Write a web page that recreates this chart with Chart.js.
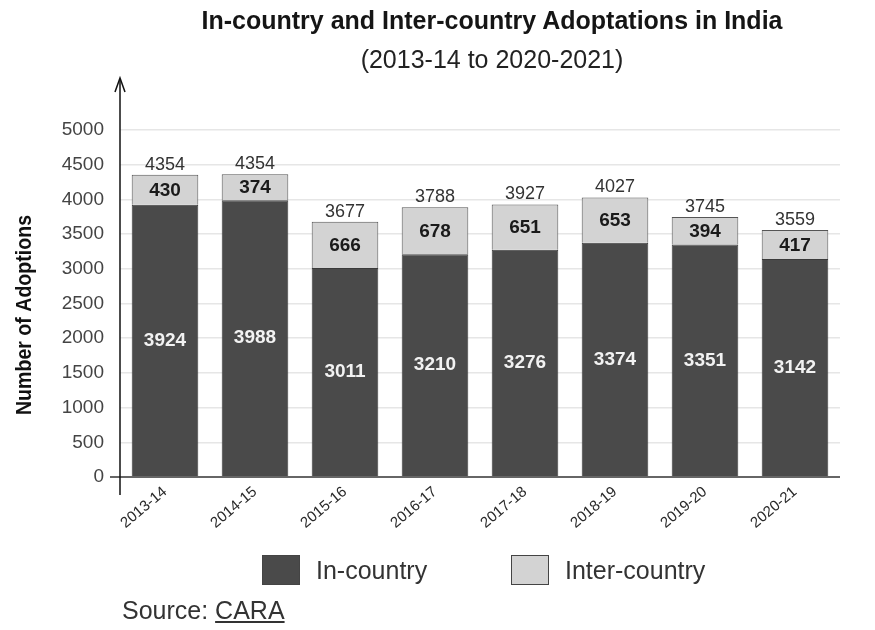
<!DOCTYPE html>
<html>
<head>
<meta charset="utf-8">
<script src="https://cdn.jsdelivr.net/npm/chart.js@4.4.1/dist/chart.umd.min.js"></script>
<style>
  html, body { margin:0; padding:0; background:#fff; }
  #wrap { position:relative; width:875px; height:630px; font-family:"Liberation Sans", Arial, sans-serif; }
  #title { position:absolute; top:6px; left:92px; width:800px; text-align:center; font-size:25px; font-weight:bold; color:#151515; }
  #subtitle { position:absolute; top:45px; left:92px; width:800px; text-align:center; font-size:25px; color:#222; }
  .lg { position:absolute; top:555px; display:flex; align-items:center; font-size:25px; color:#333; height:30px; }
  .sw { width:38px; height:30px; border:1px solid #444; margin-right:16px; box-sizing:border-box; }
  #source { position:absolute; left:122px; top:596px; font-size:25px; color:#333; }
  #source u { text-decoration:underline; }
</style>
</head>
<body>
<div id="wrap">
  <canvas id="chart" width="875" height="630"></canvas>
  <div id="title">In-country and Inter-country Adoptations in India</div>
  <div id="subtitle">(2013-14 to 2020-2021)</div>
  <div class="lg" style="left:262px"><div class="sw" style="background:#4a4a4a"></div>In-country</div>
  <div class="lg" style="left:511px"><div class="sw" style="background:#d3d3d3"></div>Inter-country</div>
  <div id="source">Source: <u>CARA</u></div>
</div>
<script>
// data
const years = ['2013-14','2014-15','2015-16','2016-17','2017-18','2018-19','2019-20','2020-21'];
const inCountry = [3924, 3988, 3011, 3210, 3276, 3374, 3351, 3142];
const interCountry = [430, 374, 666, 678, 651, 653, 394, 417];
// totals as printed above the bars
const totals = [4354, 4354, 3677, 3788, 3927, 4027, 3745, 3559];
const yTicks = [0, 500, 1000, 1500, 2000, 2500, 3000, 3500, 4000, 4500, 5000];

const FONT = '"Liberation Sans", Arial, sans-serif';

// value labels on the bars
const barLabels = {
  id: 'barLabels',
  afterDatasetsDraw(chart){
    const ctx = chart.ctx;
    const m0 = chart.getDatasetMeta(0), m1 = chart.getDatasetMeta(1);
    ctx.save();
    ctx.textAlign = 'center';
    ctx.textBaseline = 'middle';
    m0.data.forEach((bar, i)=>{
      ctx.font = 'bold 19px ' + FONT;
      ctx.fillStyle = '#f2f2f2';
      ctx.fillText(inCountry[i], bar.x, (bar.y + bar.base)/2);
      const top = m1.data[i];
      ctx.fillStyle = '#1a1a1a';
      ctx.fillText(interCountry[i], top.x, (top.y + top.base)/2 + 1);
      ctx.font = '18px ' + FONT;
      ctx.fillStyle = '#333';
      ctx.fillText(totals[i], top.x, top.y - 10);
    });
    ctx.restore();
  }
};

// arrow y axis, x axis line and the condensed y title
const axes = {
  id: 'axes',
  afterDraw(chart){
    const ctx = chart.ctx, a = chart.chartArea;
    const x = a.left;
    ctx.save();
    ctx.strokeStyle = '#666';
    ctx.lineWidth = 2;
    ctx.beginPath();
    ctx.moveTo(x - 10, a.bottom);
    ctx.lineTo(a.right, a.bottom);
    ctx.stroke();
    ctx.strokeStyle = '#111';
    ctx.lineWidth = 1.5;
    ctx.beginPath();
    ctx.moveTo(x, a.bottom + 18);
    ctx.lineTo(x, 80);
    ctx.stroke();
    ctx.beginPath();
    ctx.moveTo(x - 5, 92);
    ctx.lineTo(x, 78);
    ctx.lineTo(x + 5, 92);
    ctx.stroke();

    ctx.translate(25, 315);
    ctx.rotate(-Math.PI/2);
    ctx.scale(0.89, 1);
    ctx.font = 'bold 22px ' + FONT;
    ctx.fillStyle = '#111';
    ctx.textAlign = 'center';
    ctx.textBaseline = 'middle';
    ctx.fillText('Number of Adoptions', 0, 0);
    ctx.restore();
  }
};

new Chart(document.getElementById('chart'), {
  type: 'bar',
  data: {
    labels: years,
    datasets: [
      { label: 'In-country', data: inCountry, backgroundColor: '#4a4a4a', borderColor: '#3a3a3a', borderWidth: 1, barPercentage: 0.74, categoryPercentage: 1 },
      { label: 'Inter-country', data: interCountry, backgroundColor: '#d3d3d3', borderColor: '#555', borderWidth: 1, barPercentage: 0.74, categoryPercentage: 1 }
    ]
  },
  options: {
    responsive: false,
    animation: false,
    layout: { padding: { left: 0, right: 35, top: 130, bottom: 0 } },
    plugins: {
      legend: { display: false },
      tooltip: { enabled: false },
      title: { display: false }
    },
    scales: {
      x: {
        stacked: true,
        afterFit(scale){ scale.height = 153; },
        grid: { display: false, drawTicks: false },
        border: { display: false },
        ticks: { color: '#2a2a2a', font: { family: FONT, size: 15 }, minRotation: 40, maxRotation: 40, padding: 6 }
      },
      y: {
        stacked: true,
        min: 0, max: 5000,
        afterBuildTicks(scale){ scale.ticks = yTicks.map(v=>({ value: v })); },
        afterFit(scale){ scale.width = 120; },
        grid: { color: '#e6e6e6', drawTicks: false, lineWidth: 1.5 },
        border: { display: false },
        ticks: { color: '#444', font: { family: FONT, size: 19 }, padding: 16, callback: v => String(v) }
      }
    }
  },
  plugins: [barLabels, axes]
});
</script>
</body>
</html>
